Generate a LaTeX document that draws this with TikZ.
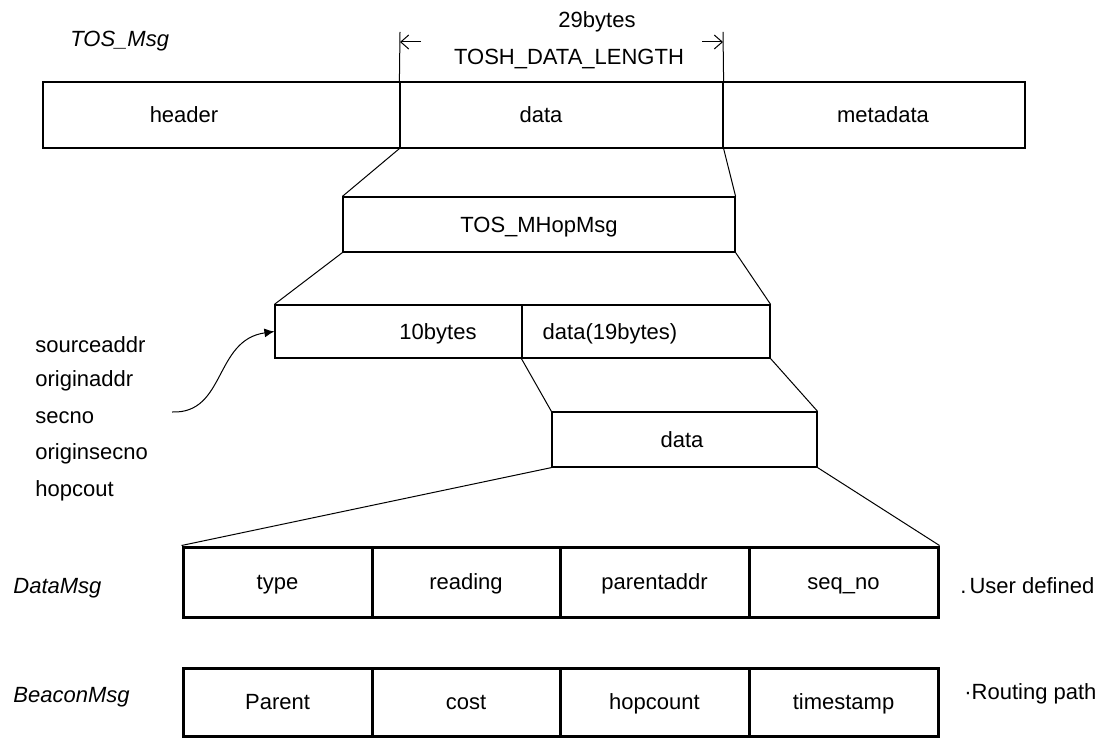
\documentclass[tikz,border=0pt]{standalone}
\usepackage{fontspec}
\setmainfont{Liberation Sans}
\usetikzlibrary{fit,arrows.meta}
\begin{document}
\begin{tikzpicture}[x=0.5pt,y=-0.5pt,
  cell/.style={draw, inner sep=0pt, line width=0.6pt},
  bigcell/.style={draw, inner sep=0pt, line width=1.5pt},
  lbl/.style={inner sep=0pt, font=\fontsize{11}{13}\selectfont, text height=7.9pt, text depth=0pt},
  tag/.style={lbl, font=\fontsize{11}{13}\selectfont\itshape, anchor=west},
  side/.style={lbl, anchor=west},
  link/.style={line width=0.5pt},
  dimarrow/.style={line width=0.5pt, -{Straight Barb[length=4pt,width=7pt]}},
]
\useasboundingbox (0,0) rectangle (1096,743);

% TOS_Msg frame
\node[tag] (tosmsg) at (70,39) {TOS\_Msg};
\node[cell, fit={(43,82) (400,148)}] (hdr) {};
\node[cell, fit={(400,82) (723,148)}] (pay) {};
\node[cell, fit={(723,82) (1025,148)}] (meta) {};
\node[lbl] (hdrt) at (184,115) {header};
\node[lbl] (payt) at (541,115) {data};
\node[lbl] (metat) at (883,115) {metadata};

% length of the payload
\coordinate (tl) at (400,32);
\coordinate (tr) at (723,32);
\coordinate (la) at (421,42);
\coordinate (ra) at (702,42);
\draw[link] (tl) -- (pay.north west);
\draw[link] (tr) -- (pay.north east);
\draw[dimarrow] (la) -- (tl |- la);
\draw[dimarrow] (ra) -- (tr |- ra);
\node[lbl] (bytes) at (597,20) {29bytes};
\node[lbl] (tdl) at (569,57) {TOSH\_DATA\_LENGTH};

% multi-hop message
\node[cell, fit={(343,197) (735,252)}] (mhop) {};
\node[lbl] (mhopt) at (539,224.5) {TOS\_MHopMsg};

\node[cell, fit={(275,305) (522,358)}] (hops) {};
\node[cell, fit={(522,305) (770,358)}] (mdata) {};
\node[lbl] (hopst) at (438,331.5) {10bytes};
\node[lbl] (mdatat) at (610,331.5) {data(19bytes)};

\node[cell, fit={(552,412) (817,467)}] (udata) {};
\node[lbl] (udatat) at (682,439.5) {data};

% header fields
\node[side] (f1) at (35,345) {sourceaddr};
\node[side] (f2) at (35,379) {originaddr};
\node[side] (f3) at (35,416) {secno};
\node[side] (f4) at (35,452) {originsecno};
\node[side] (f5) at (35,489) {hopcout};
\coordinate (src) at (172,412);
\draw[link, -{Latex[length=5pt,width=4.5pt]}] (src) .. controls (226,414) and (214,340) .. (hops.west);

% application messages
\node[tag] (dmsg) at (13,586) {DataMsg};
\node[tag] (bmsg) at (13,695) {BeaconMsg};
\foreach \i/\a/\b/\t in {1/183/372/type, 2/372/560/reading, 3/560/749/parentaddr, 4/749/938/seq\_no}{
  \node[bigcell, fit={(\a,547) (\b,617)}] (dm\i) {};
  \node[lbl] (dmt\i) at (dm\i.center) {\t};
}
\foreach \i/\a/\b/\t in {1/183/372/Parent, 2/372/560/cost, 3/560/749/hopcount, 4/749/938/timestamp}{
  \node[bigcell, fit={(\a,668) (\b,736)}] (bm\i) {};
  \node[lbl] (bmt\i) at (bm\i.center) {\t};
}
\node[side] (userdef) at (960,586) {.\hspace{1.5pt}User defined};
\node[side] (routing) at (964,692) {·Routing path};

% expansion lines
\draw[link] (pay.south west) -- (mhop.north west);
\draw[link] (pay.south east) -- (mhop.north east);
\draw[link] (mhop.south west) -- (hops.north west);
\draw[link] (mhop.south east) -- (mdata.north east);
\draw[link] (mdata.south west) -- (udata.north west);
\draw[link] (mdata.south east) -- (udata.north east);
\draw[link] (udata.south west) -- (dm1.north west);
\draw[link] (udata.south east) -- (dm4.north east);
\end{tikzpicture}
\end{document}
